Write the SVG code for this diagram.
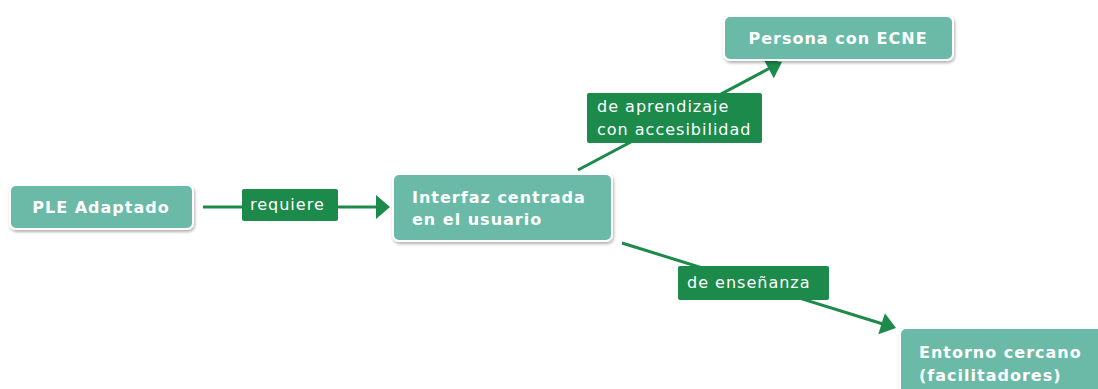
<svg xmlns="http://www.w3.org/2000/svg" width="1098" height="389" viewBox="0 0 1098 389">
<style>
.node{fill:#6bbaa7;stroke:#ffffff;stroke-width:2}
.nt{font-family:"DejaVu Sans",Verdana,sans-serif;font-size:16px;font-weight:bold;fill:#ffffff;letter-spacing:1px}
.lab{fill:#1b8a4a}
.lt{font-family:"DejaVu Sans",Verdana,sans-serif;font-size:16px;fill:#ffffff;letter-spacing:1px}
.edge{stroke:#1b8a4a;stroke-width:3;fill:none}
.ah{fill:#1b8a4a}
</style>
<defs>
<filter id="sh" x="-10%" y="-20%" width="130%" height="150%">
<feDropShadow dx="1" dy="2" stdDeviation="1.5" flood-color="#000" flood-opacity="0.3"/>
</filter>
</defs>
<g id="connectors">
<line class="edge" x1="203" y1="207" x2="378" y2="207"/>
<path class="ah" d="M376,195 L390,207 L376,219 z"/>
<line class="edge" x1="578" y1="170" x2="770" y2="68"/>
<path class="ah" d="M763.4,58.9 L782,62 L773.8,78.3 z"/>
<line class="edge" x1="622" y1="243" x2="883" y2="324"/>
<path class="ah" d="M884.9,313.3 L896,328 L878.3,334.3 z"/>
<g id="lab1"><rect class="lab" x="242" y="189" width="96" height="32" rx="2"/><text class="lt" x="250" y="210">requiere</text></g>
<g id="lab2"><rect class="lab" x="587" y="93" width="175" height="50" rx="2"/><text class="lt" x="597" y="112">de aprendizaje</text><text class="lt" x="597" y="135">con accesibilidad</text></g>
<g id="lab3"><rect class="lab" x="678" y="266" width="151" height="34" rx="2"/><text class="lt" x="687" y="288">de enseñanza</text></g>
</g>
<g id="n1"><rect class="node" x="10" y="185" width="183" height="44" rx="6" filter="url(#sh)"/><text class="nt" x="101" y="213" text-anchor="middle">PLE Adaptado</text></g>
<g id="n2"><rect class="node" x="393" y="174" width="219" height="67" rx="6" filter="url(#sh)"/><text class="nt" x="412" y="203">Interfaz centrada</text><text class="nt" x="412" y="225">en el usuario</text></g>
<g id="n3"><rect class="node" x="724" y="16" width="229" height="44" rx="6" filter="url(#sh)"/><text class="nt" x="838" y="44" text-anchor="middle">Persona con ECNE</text></g>
<g id="n4"><rect class="node" x="900" y="328" width="210" height="70" rx="6" filter="url(#sh)"/><text class="nt" x="919" y="358">Entorno cercano</text><text class="nt" x="919" y="381">(facilitadores)</text></g>
</svg>
